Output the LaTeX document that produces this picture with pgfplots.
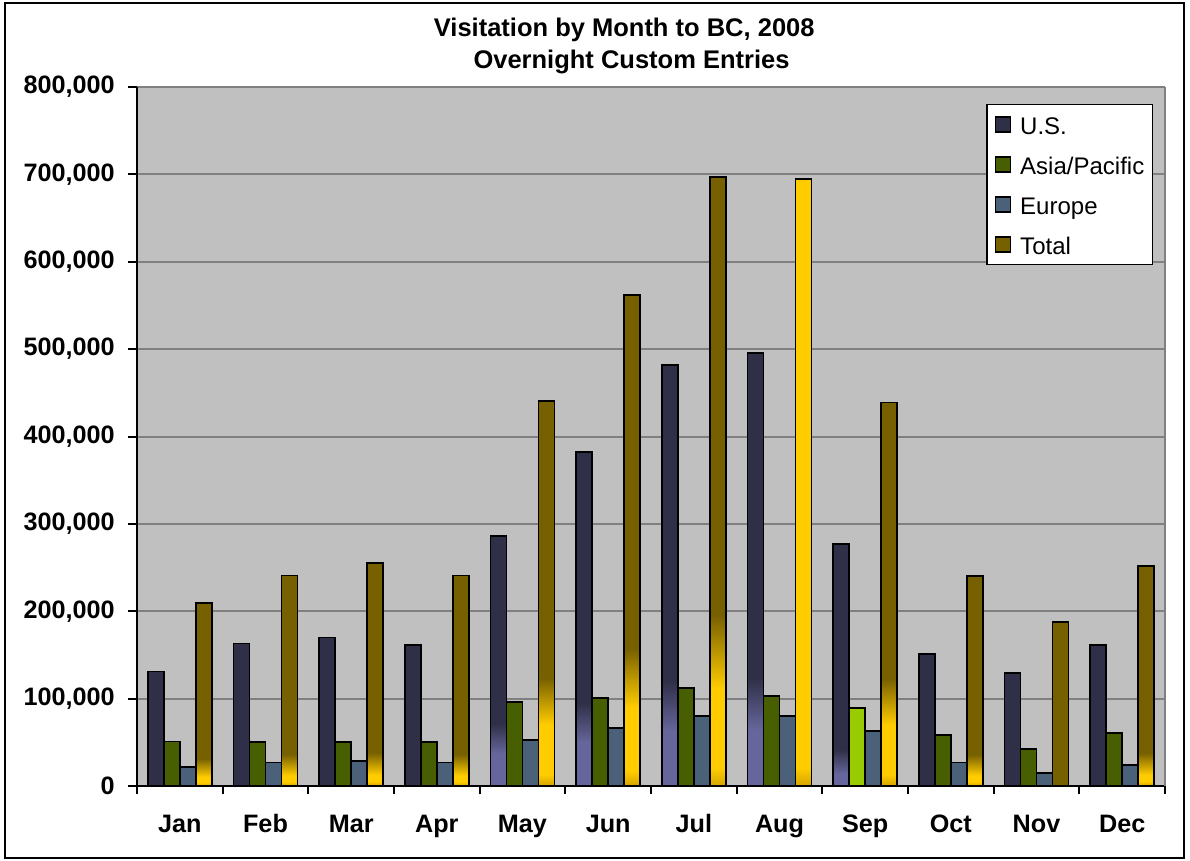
\documentclass[border=0pt]{standalone}
\usepackage{pgfplots}
\pgfplotsset{compat=1.18}
\usepackage{pgfplotstable}
\usepackage{fontspec}
\setmainfont{Liberation Sans}

\definecolor{usc}{HTML}{2F2F47}
\definecolor{usl}{HTML}{66669C}
\definecolor{asiac}{HTML}{475F00}
\definecolor{asial}{HTML}{99CC00}
\definecolor{eurc}{HTML}{4A6179}
\definecolor{totc}{HTML}{776000}
\definecolor{gold}{HTML}{FFCC00}
\definecolor{goldd}{HTML}{D4A400}
\definecolor{plotbg}{HTML}{C0C0C0}
\definecolor{gridc}{HTML}{808080}

% stops: 25bp = bar bottom, 75bp = bar top
\pgfdeclareverticalshading{totbig}{100bp}{color(0bp)=(goldd); color(25bp)=(goldd); color(26.5bp)=(gold); color(33bp)=(gold); color(39bp)=(totc); color(100bp)=(totc)}
\pgfdeclareverticalshading{totsmall}{100bp}{color(0bp)=(goldd); color(25bp)=(goldd); color(26bp)=(gold); color(27.5bp)=(gold); color(32.5bp)=(totc); color(100bp)=(totc)}
\pgfdeclareverticalshading{goldfull}{100bp}{color(0bp)=(goldd); color(25bp)=(goldd); color(26.5bp)=(gold); color(100bp)=(gold)}
\pgfdeclareverticalshading{usbig}{100bp}{color(0bp)=(usl); color(25bp)=(usl); color(31.5bp)=(usl); color(37.5bp)=(usc); color(100bp)=(usc)}
\pgfdeclareverticalshading{ussmall}{100bp}{color(0bp)=(usl); color(25bp)=(usl); color(27.5bp)=(usl); color(32.5bp)=(usc); color(100bp)=(usc)}

\pgfplotstableread{
idx us asia europe total
0 131000 51000 22000 209000
1 163000 50000 27000 241000
2 170000 50000 29000 255000
3 161000 50000 27000 241000
4 286000 96000 53000 441000
5 382000 101000 66000 562000
6 482000 112000 80000 697000
7 496000 103000 80000 695000
8 277000 89000 63000 439000
9 151000 58000 27000 240000
10 129000 42000 15000 188000
11 161000 61000 24000 252000
}\datatable

\begin{document}
\begin{tikzpicture}
\path[fill=white] (0,0) rectangle (595bp,430.5bp);
\draw[black, line width=1bp] (2.5bp,1.5bp) rectangle (592bp,429bp);
\node[anchor=base, font=\fontsize{12.75bp}{15bp}\selectfont\bfseries] at (312.1bp,412.15bp) {Visitation by Month to BC, 2008};
\node[anchor=base, font=\fontsize{12.75bp}{15bp}\selectfont\bfseries] at (315.75bp,396.35bp) {Overnight Custom Entries};
\begin{axis}[
  at={(68.5bp,37.5bp)}, anchor=south west,
  width=514bp, height=349.5bp, scale only axis,
  xmin=-0.5, xmax=11.5, ymin=0, ymax=800000,
  axis x line*=bottom, axis y line*=left,
  axis line style={black, line width=1bp},
  axis background/.style={fill=plotbg},
  ymajorgrids, grid style={draw=gridc, line width=1bp},
  ytick={0,100000,...,800000},
  scaled y ticks=false,
  /pgf/number format/.cd, fixed, 1000 sep={,}, assume math mode=true, /pgfplots/.cd,
  xtick={0,...,11},
  xticklabels={Jan,Feb,Mar,Apr,May,Jun,Jul,Aug,Sep,Oct,Nov,Dec},
  minor xtick={-0.5,0.5,...,11.5},
  tick align=outside,
  major tick length=4.5bp, minor tick length=4bp,
  major x tick style={draw=none},
  minor x tick style={black, line width=1bp},
  major y tick style={black, line width=1bp},
  tick label style={font=\fontsize{12.6bp}{14bp}\selectfont\bfseries, inner sep=0pt},
  yticklabel style={anchor=east},
  xticklabel style={anchor=base},
  yticklabel shift=6.5bp,
  xticklabel shift=18.85bp,
  legend style={at={(0.9883,0.9757)}, anchor=north east, draw=black, line width=0.7bp, fill=white,
    font=\fontsize{12bp}{13bp}\selectfont, inner xsep=4bp, inner ysep=4.2bp,
    row sep=8.5bp, column sep=4.5bp,
    nodes={inner sep=0pt, text height=10.7bp, text depth=0.8bp, anchor=west}},
  legend cell align=left,
  legend image code/.code={\draw[#1, draw=black, line width=0.6bp] (0bp,-3.75bp) rectangle (7.5bp,3.75bp);},
]
% U.S.
\addplot[ybar, bar width=8bp, bar shift=-12bp, fill=usc, draw=black, line width=0.9bp] table[x=idx, y=us] {\datatable};
\addlegendentry{U.S.}
\pgfplotsinvokeforeach{4,5,6,7}{
\addplot[ybar, bar width=8bp, bar shift=-12bp, shade, shading=usbig, draw=black, line width=0.9bp, restrict x to domain=#1:#1, forget plot] table[x=idx, y=us] {\datatable};
}
\addplot[ybar, bar width=8bp, bar shift=-12bp, shade, shading=ussmall, draw=black, line width=0.9bp, restrict x to domain=8:8, forget plot] table[x=idx, y=us] {\datatable};
% Asia/Pacific
\addplot[ybar, bar width=8bp, bar shift=-4bp, fill=asiac, draw=black, line width=0.9bp] table[x=idx, y=asia] {\datatable};
\addlegendentry{Asia/Pacific}
\addplot[ybar, bar width=8bp, bar shift=-4bp, fill=asial, draw=black, line width=0.9bp, restrict x to domain=8:8, forget plot] table[x=idx, y=asia] {\datatable};
% Europe
\addplot[ybar, bar width=8bp, bar shift=4bp, fill=eurc, draw=black, line width=0.9bp] table[x=idx, y=europe] {\datatable};
\addlegendentry{Europe}
% Total
\addplot[ybar, bar width=8bp, bar shift=12bp, fill=totc, draw=black, line width=0.9bp] table[x=idx, y=total] {\datatable};
\addlegendentry{Total}
\pgfplotsinvokeforeach{0,1,2,3,9,11}{
\addplot[ybar, bar width=8bp, bar shift=12bp, shade, shading=totsmall, draw=black, line width=0.9bp, restrict x to domain=#1:#1, forget plot] table[x=idx, y=total] {\datatable};
}
\pgfplotsinvokeforeach{4,5,6,8}{
\addplot[ybar, bar width=8bp, bar shift=12bp, shade, shading=totbig, draw=black, line width=0.9bp, restrict x to domain=#1:#1, forget plot] table[x=idx, y=total] {\datatable};
}
\addplot[ybar, bar width=8bp, bar shift=12bp, shade, shading=goldfull, draw=black, line width=0.9bp, restrict x to domain=7:7, forget plot] table[x=idx, y=total] {\datatable};
\end{axis}
\draw[gridc, line width=1bp] (582.5bp,37.5bp) -- (582.5bp,387bp);
\end{tikzpicture}
\end{document}
